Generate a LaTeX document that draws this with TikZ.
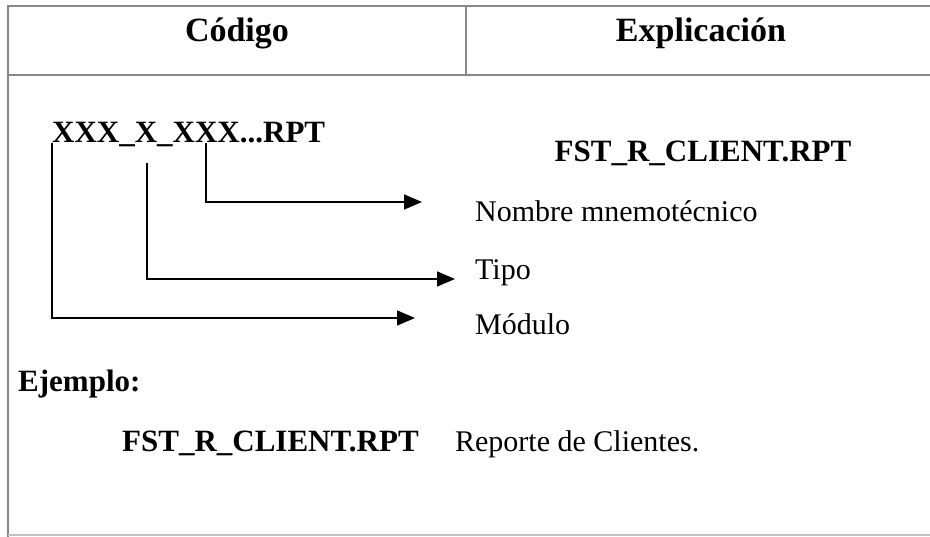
\documentclass[tikz,border=0pt]{standalone}
\usepackage{fontspec}
\setmainfont{Liberation Serif}
\usepackage{xcolor}
\usetikzlibrary{arrows.meta, positioning}
\definecolor{rulegray}{RGB}{135,135,135}

\begin{document}
\begin{tikzpicture}[
    x=1pt, y=-1pt,
    head/.style={font=\fontsize{34}{40}\selectfont\bfseries, anchor=base, inner sep=0pt},
    code/.style={font=\fontsize{31}{36}\selectfont\bfseries, anchor=base west, inner sep=0pt},
    expl/.style={font=\fontsize{30}{36}\selectfont, anchor=base west, inner sep=0pt},
    rule/.style={draw=rulegray, line width=1.8pt},
    arrow/.style={-{Triangle[length=18pt, width=15pt]}, line width=1.6pt}
]
\useasboundingbox (0,0) rectangle (930,537);

% Table frame
\draw[rule] (8,537) -- (8,6) -- (930,6);
\draw[rule] (8,75) -- (930,75);
\draw[rule] (466,6) -- (466,75);
\draw[rule, rulegray!50] (8,535) -- (930,535);

% Header
\node[head] (hcod) at (237,42) {Código};
\node[head] (hexp) at (701,42) {Explicación};

% Pattern and its parts
\node[code] (pat) at (52,143) {XXX\_X\_XXX...RPT};
\node[code, anchor=base] (name) at (703,162) {FST\_R\_CLIENT.RPT};
\node[expl] (nom) at (475,222) {Nombre mnemotécnico};
\node[expl] (tip) at (475,280) {Tipo};
\node[expl] (mod) at (475,335) {Módulo};

% Connector ends
\coordinate (sNom) at (206,143);
\coordinate (eNom) at (422,202);
\coordinate (sTip) at (147,163);
\coordinate (eTip) at (455,279);
\coordinate (sMod) at (52,143);
\coordinate (eMod) at (415,318);

\draw[arrow] (sNom) |- (eNom);
\draw[arrow] (sTip) |- (eTip);
\draw[arrow] (sMod) |- (eMod);

% Example
\node[code] (ej) at (18,392) {Ejemplo:};
\node[code] (exname) at (122,452) {FST\_R\_CLIENT.RPT};
\node[expl, right=36pt of exname.base east, anchor=base west] (exdesc) {Reporte de Clientes.};

\end{tikzpicture}
\end{document}
